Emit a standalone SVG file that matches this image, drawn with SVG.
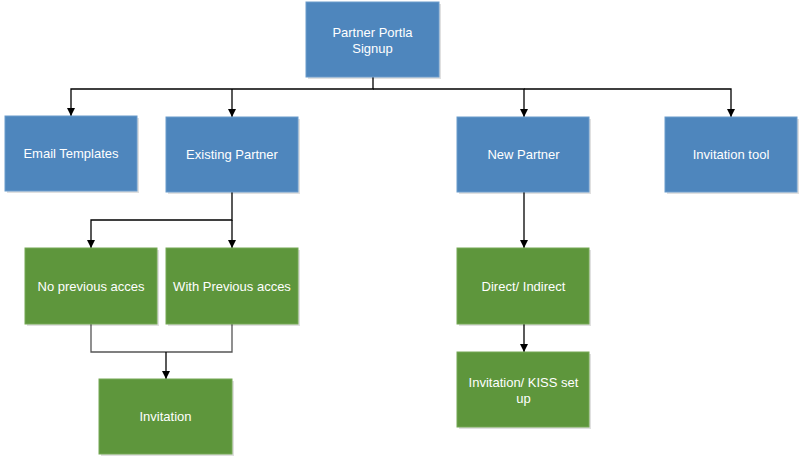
<svg xmlns="http://www.w3.org/2000/svg" width="803" height="462" viewBox="0 0 803 462">
<defs>
<style>
.blue{fill:#4e86bd;stroke:#6a9bcb;stroke-width:1}
.green{fill:#5e963c;stroke:#74a854;stroke-width:1}
.sh{fill:#000;opacity:0.12}
.t{font-family:"Liberation Sans",Arial,sans-serif;font-size:13px;fill:#ffffff;text-anchor:middle;dominant-baseline:central}
.c{fill:none;stroke:#000;stroke-width:1.3}
.m{fill:none;stroke:#555;stroke-width:1.3}
</style>
<marker id="ah" viewBox="0 0 10 10" refX="10" refY="5" markerWidth="8" markerHeight="8" markerUnits="userSpaceOnUse" orient="auto">
<path d="M0,0 L10,5 L0,10 z" fill="#000"/>
</marker>
</defs>
<g id="connectors">
<path class="c" d="M373,77 V89 H71 V116" marker-end="url(#ah)"/>
<path class="c" d="M232,89 V117" marker-end="url(#ah)"/>
<path class="c" d="M373,89 H524 V117" marker-end="url(#ah)"/>
<path class="c" d="M524,89 H731 V117" marker-end="url(#ah)"/>
<path class="c" d="M232,192 V220 H91 V248" marker-end="url(#ah)"/>
<path class="c" d="M232,220 V248" marker-end="url(#ah)"/>
<path class="m" d="M91,324 V352 H232 V324"/>
<path class="c" d="M166,352 V379" marker-end="url(#ah)"/>
<path class="c" d="M524,192 V248" marker-end="url(#ah)"/>
<path class="c" d="M524,324 V352" marker-end="url(#ah)"/>
</g>
<g id="n-signup">
<rect class="sh" x="308" y="4" width="133" height="75"/>
<rect class="blue" x="306" y="2" width="133" height="75"/>
<text class="t" x="372.5" y="32">Partner Portla</text>
<text class="t" x="372.5" y="48">Signup</text>
</g>
<g id="n-email">
<rect class="sh" x="7" y="118" width="132" height="75"/>
<rect class="blue" x="5" y="116" width="132" height="75"/>
<text class="t" x="71" y="153.5">Email Templates</text>
</g>
<g id="n-existing">
<rect class="sh" x="168" y="119" width="132" height="75"/>
<rect class="blue" x="166" y="117" width="132" height="75"/>
<text class="t" x="232" y="154.5">Existing Partner</text>
</g>
<g id="n-new">
<rect class="sh" x="459" y="119" width="132" height="75"/>
<rect class="blue" x="457" y="117" width="132" height="75"/>
<text class="t" x="523.5" y="154.5">New Partner</text>
</g>
<g id="n-tool">
<rect class="sh" x="667" y="119" width="132" height="75"/>
<rect class="blue" x="665" y="117" width="132" height="75"/>
<text class="t" x="731" y="154.5">Invitation tool</text>
</g>
<g id="n-noprev">
<rect class="sh" x="27" y="250" width="132" height="76"/>
<rect class="green" x="25" y="248" width="132" height="76"/>
<text class="t" x="91" y="286">No previous acces</text>
</g>
<g id="n-withprev">
<rect class="sh" x="168" y="250" width="132" height="76"/>
<rect class="green" x="166" y="248" width="132" height="76"/>
<text class="t" x="232" y="286">With Previous acces</text>
</g>
<g id="n-invitation">
<rect class="sh" x="101" y="381" width="133" height="75"/>
<rect class="green" x="99" y="379" width="133" height="75"/>
<text class="t" x="165.5" y="416.5">Invitation</text>
</g>
<g id="n-direct">
<rect class="sh" x="459" y="250" width="132" height="76"/>
<rect class="green" x="457" y="248" width="132" height="76"/>
<text class="t" x="523.5" y="286">Direct/ Indirect</text>
</g>
<g id="n-kiss">
<rect class="sh" x="459" y="354" width="132" height="75"/>
<rect class="green" x="457" y="352" width="132" height="75"/>
<text class="t" x="523.5" y="382">Invitation/ KISS set</text>
<text class="t" x="523.5" y="398">up</text>
</g>
</svg>
